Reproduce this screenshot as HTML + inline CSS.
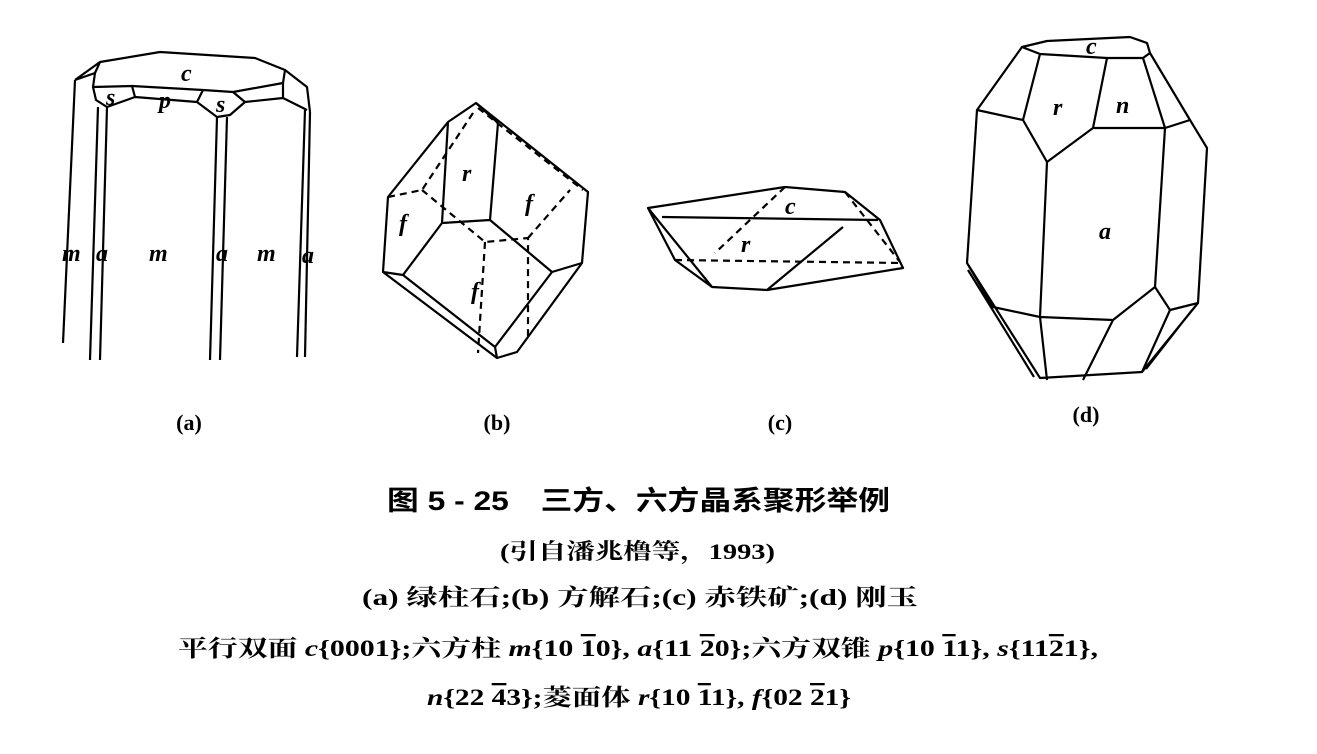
<!DOCTYPE html>
<html><head><meta charset="utf-8"><style>
html,body{margin:0;padding:0;background:#fff;width:1317px;height:754px;overflow:hidden}
svg{position:absolute;left:0;top:0}
.l{font-family:"Liberation Serif",serif;font-style:italic;font-weight:bold;font-size:24px}
.cap{font-family:"Liberation Serif",serif;font-weight:bold;font-size:22px}
.t{font-family:"Liberation Serif","Noto Serif CJK SC","Noto Sans CJK SC",serif;font-weight:bold}
.h{font-family:"Liberation Sans","Noto Sans CJK SC",sans-serif;font-weight:bold}
</style></head><body>
<svg width="1317" height="754" viewBox="0 0 1317 754" fill="none" stroke="#000" stroke-width="2.2" stroke-linejoin="round">
<!-- (a) -->
<path d="M75,80 L63,343 M75,80 L100,62 L160,52 L255,58 L285,70 L307,87 L310,112 M100,62 L95,73 L75,80
M93,87 L132,86 L135,97 L107,107 L96,100 Z M95,73 L93,87
M132,86 L203,90 L233,92 L283,83 M135,97 L197,102 M203,90 L197,102 L217,117 L230,115 L245,102 L233,92
M245,102 L283,98 L283,83 L285,70 M283,98 L307,110
M98,107 L90,360 M107,107 L100,360 M217,117 L210,360 M227,117 L220,360 M305,110 L297,357 M310,112 L305,357"/>
<!-- (b) -->
<path d="M476,103 L588,192 L582,263 L517,352 L497,358 L383,272 L388,197 L448,122 Z
M448,122 L442,223 L490,220 L498,123 M476,103 L498,123
M442,223 L403,275 L383,272 M403,275 L495,347 L497,358 M490,220 L552,272 L582,263 M552,272 L495,347"/>
<path stroke-dasharray="7,5" d="M478,108 L583,190 M473,113 L422,190 L388,197 M422,190 L485,242 L528,238 L528,340 M528,238 L570,190 M485,242 L478,353"/>
<!-- (c) -->
<path d="M648,208 L785,187 L845,192 L880,220 L903,268 L767,290 L712,287 L675,260 Z M648,208 L712,287 M662,217 L878,220 M843,227 L767,290"/>
<path stroke-dasharray="7,5" d="M785,187 L715,253 M675,260 L902,263 M845,192 L900,262"/>
<!-- (d) -->
<path d="M1022,47 L1047,41 L1130,37 L1147,43 L1150,53 L1143,58 L1107,58 L1040,54 Z
M1022,47 L977,110 L967,263 L1040,378 L1142,372 L1198,303 L1207,148 L1190,120 L1150,53
M1040,54 L1023,120 M977,110 L1023,120 L1047,162 L1093,128 L1107,58 M1093,128 L1165,128 L1143,58 M1165,128 L1190,120
M1165,128 L1155,287 M1047,162 L1040,317 L1113,320 L1155,287 L1170,310 L1198,303 M1170,310 L1142,372
M1113,320 L1083,380 M1040,317 L1047,380 M1040,317 L993,307 L967,263
M968,270 L1034,377 M1192,310 L1146,369"/>
<g class="l" fill="#000" stroke="none">
<text x="181" y="81">c</text><text x="106" y="105">s</text><text x="159" y="108">p</text><text x="216" y="112">s</text>
<text x="62" y="261">m</text><text x="96" y="261">a</text><text x="149" y="261">m</text><text x="216" y="261">a</text><text x="257" y="261">m</text><text x="302" y="263">a</text>
<text x="462" y="181">r</text><text x="525" y="211">f</text><text x="399" y="231">f</text><text x="471" y="299">f</text>
<text x="785" y="214">c</text><text x="741" y="252">r</text>
<text x="1086" y="54">c</text><text x="1053" y="115">r</text><text x="1116" y="113">n</text><text x="1099" y="239">a</text>
</g>
<g class="cap" fill="#000" stroke="none" text-anchor="middle">
<text x="189" y="430">(a)</text><text x="497" y="430">(b)</text><text x="780" y="430">(c)</text><text x="1086" y="422">(d)</text>
</g>
<g fill="#000" stroke="none">
<text class="h" x="387" y="510" font-size="27" textLength="503" lengthAdjust="spacingAndGlyphs">图 5 - 25　三方、六方晶系聚形举例</text>
<text class="t" x="500" y="559" font-size="22" textLength="275" lengthAdjust="spacingAndGlyphs">(引自潘兆橹等，1993)</text>
<text class="t" x="362" y="605" font-size="23" textLength="556" lengthAdjust="spacingAndGlyphs">(a) 绿柱石;(b) 方解石;(c) 赤铁矿;(d) 刚玉</text>
<text class="t" x="178" y="656" font-size="23" textLength="920" lengthAdjust="spacingAndGlyphs">平行双面 <tspan font-style="italic">c</tspan>{0001};六方柱 <tspan font-style="italic">m</tspan>{10 <tspan text-decoration="overline">1</tspan>0}, <tspan font-style="italic">a</tspan>{11 <tspan text-decoration="overline">2</tspan>0};六方双锥 <tspan font-style="italic">p</tspan>{10 <tspan text-decoration="overline">1</tspan>1}, <tspan font-style="italic">s</tspan>{11<tspan text-decoration="overline">2</tspan>1},</text>
<text class="t" x="427" y="705" font-size="23" textLength="424" lengthAdjust="spacingAndGlyphs"><tspan font-style="italic">n</tspan>{22 <tspan text-decoration="overline">4</tspan>3};菱面体 <tspan font-style="italic">r</tspan>{10 <tspan text-decoration="overline">1</tspan>1}, <tspan font-style="italic">f</tspan>{02 <tspan text-decoration="overline">2</tspan>1}</text>
</g>
</svg>
</body></html>
